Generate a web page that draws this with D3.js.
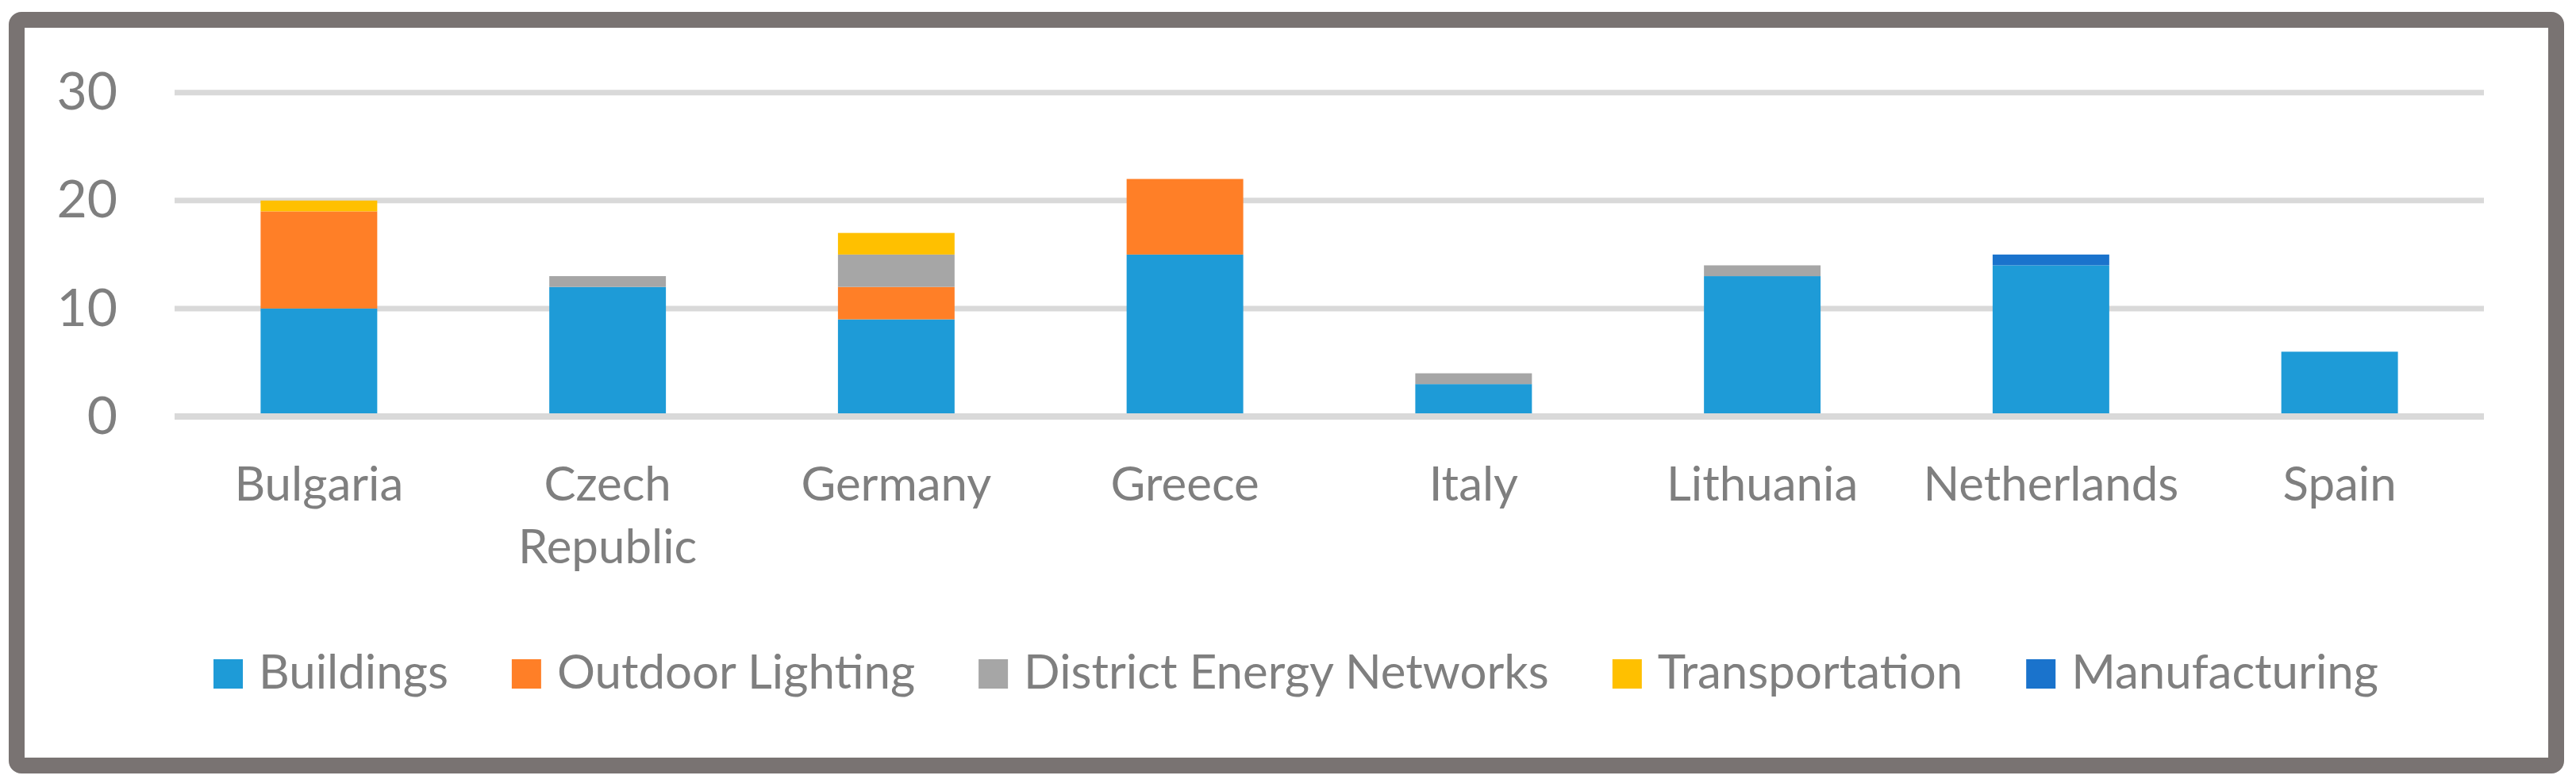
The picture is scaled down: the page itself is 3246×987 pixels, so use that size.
<!DOCTYPE html>
<html>
<head>
<meta charset="utf-8">
<script src="https://cdn.jsdelivr.net/npm/d3@7"></script>
<style>
  html, body { margin: 0; padding: 0; background: #ffffff; }
  svg { display: block; }
</style>
</head>
<body>
<svg id="chart" width="3246" height="987"></svg>
<script>
// ---- Data ----
const categories = ["Bulgaria", "Czech Republic", "Germany", "Greece", "Italy", "Lithuania", "Netherlands", "Spain"];
const seriesNames = ["Buildings", "Outdoor Lighting", "District Energy Networks", "Transportation", "Manufacturing"];
const buildings       = [10, 12, 9, 15, 3, 13, 14, 6];
const outdoorLighting = [9, 0, 3, 7, 0, 0, 0, 0];
const districtEnergy  = [0, 1, 3, 0, 1, 1, 0, 0];
const transportation  = [1, 0, 2, 0, 0, 0, 0, 0];
const manufacturing   = [0, 0, 0, 0, 0, 0, 1, 0];
const yTicks = [0, 10, 20, 30];
const colors = ["#1E9BD7", "#FF7F27", "#A6A6A6", "#FFC000", "#1A73CC"];

const seriesValues = [buildings, outdoorLighting, districtEnergy, transportation, manufacturing];
const table = categories.map((c, i) => {
  const row = { category: c };
  seriesNames.forEach((s, k) => row[s] = seriesValues[k][i]);
  return row;
});

// ---- Layout ----
const W = 3246, H = 987;
const plot = { left: 220, right: 3130, top: 116.7, bottom: 525 };
const textColor = "#7F7F7F";
const font = "Lato, 'Open Sans', sans-serif";

const svg = d3.select("#chart");

// Frame
svg.append("rect")
  .attr("x", 21).attr("y", 25)
  .attr("width", 3231 - 11 - 20).attr("height", 975 - 15 - 20)
  .attr("rx", 6).attr("ry", 6)
  .attr("fill", "#ffffff")
  .attr("stroke", "#797372")
  .attr("stroke-width", 20);

const x = d3.scaleBand()
  .domain(categories)
  .range([plot.left, plot.right])
  .paddingInner(0.596)
  .paddingOuter(0.298);

const y = d3.scaleLinear()
  .domain([0, 30])
  .range([plot.bottom, plot.top]);

// Gridlines
svg.append("g")
  .selectAll("line")
  .data(yTicks.filter(t => t !== 0))
  .join("line")
  .attr("x1", plot.left).attr("x2", plot.right)
  .attr("y1", d => y(d)).attr("y2", d => y(d))
  .attr("stroke", "#D9D9D9")
  .attr("stroke-width", 7);

// Stacked bars
const stack = d3.stack().keys(seriesNames);
const stacked = stack(table);

svg.append("g")
  .selectAll("g")
  .data(stacked)
  .join("g")
  .attr("fill", (d, i) => colors[i])
  .selectAll("rect")
  .data(d => d.filter(p => p[1] - p[0] > 0))
  .join("rect")
  .attr("x", d => x(d.data.category))
  .attr("width", x.bandwidth())
  .attr("y", d => y(d[1]))
  .attr("height", d => y(d[0]) - y(d[1]));

// Zero axis line (on top)
svg.append("line")
  .attr("x1", plot.left).attr("x2", plot.right)
  .attr("y1", y(0)).attr("y2", y(0))
  .attr("stroke", "#D9D9D9")
  .attr("stroke-width", 8);

// Y axis labels
const yAxis = d3.axisLeft(y).tickValues(yTicks).tickSize(0).tickPadding(0).tickFormat(d3.format("d"));
const yg = svg.append("g")
  .attr("transform", `translate(148,0)`)
  .call(yAxis);
yg.select(".domain").remove();
yg.selectAll("text")
  .attr("fill", textColor)
  .attr("font-family", font)
  .attr("font-size", 66)
  .attr("dy", "0.32em");

// X axis labels
const xLabelLines = {
  "Czech Republic": ["Czech", "Republic"]
};
const xg = svg.append("g");
categories.forEach(c => {
  const lines = xLabelLines[c] || [c];
  const t = xg.append("text")
    .attr("x", x(c) + x.bandwidth() / 2)
    .attr("y", 631)
    .attr("text-anchor", "middle")
    .attr("fill", textColor)
    .attr("font-family", font)
    .attr("font-size", 60);
  lines.forEach((ln, i) => {
    t.append("tspan")
      .attr("x", x(c) + x.bandwidth() / 2)
      .attr("dy", i === 0 ? 0 : 79)
      .text(ln);
  });
});

// Legend
const legend = svg.append("g");
const sq = 37, gapText = 20, gapItem = 80;
const items = [];
let cx = 0;
seriesNames.forEach((s, i) => {
  const g = legend.append("g");
  g.append("rect")
    .attr("x", cx).attr("y", 831)
    .attr("width", sq).attr("height", sq)
    .attr("fill", colors[i]);
  const t = g.append("text")
    .attr("x", cx + sq + gapText)
    .attr("y", 867.7)
    .attr("fill", textColor)
    .attr("font-family", font)
    .attr("font-size", 60)
    .text(s);
  const w = t.node().getComputedTextLength();
  cx += sq + gapText + w + gapItem;
});
const totalW = cx - gapItem;
legend.attr("transform", `translate(${1633 - totalW / 2},0)`);
</script>
</body>
</html>
